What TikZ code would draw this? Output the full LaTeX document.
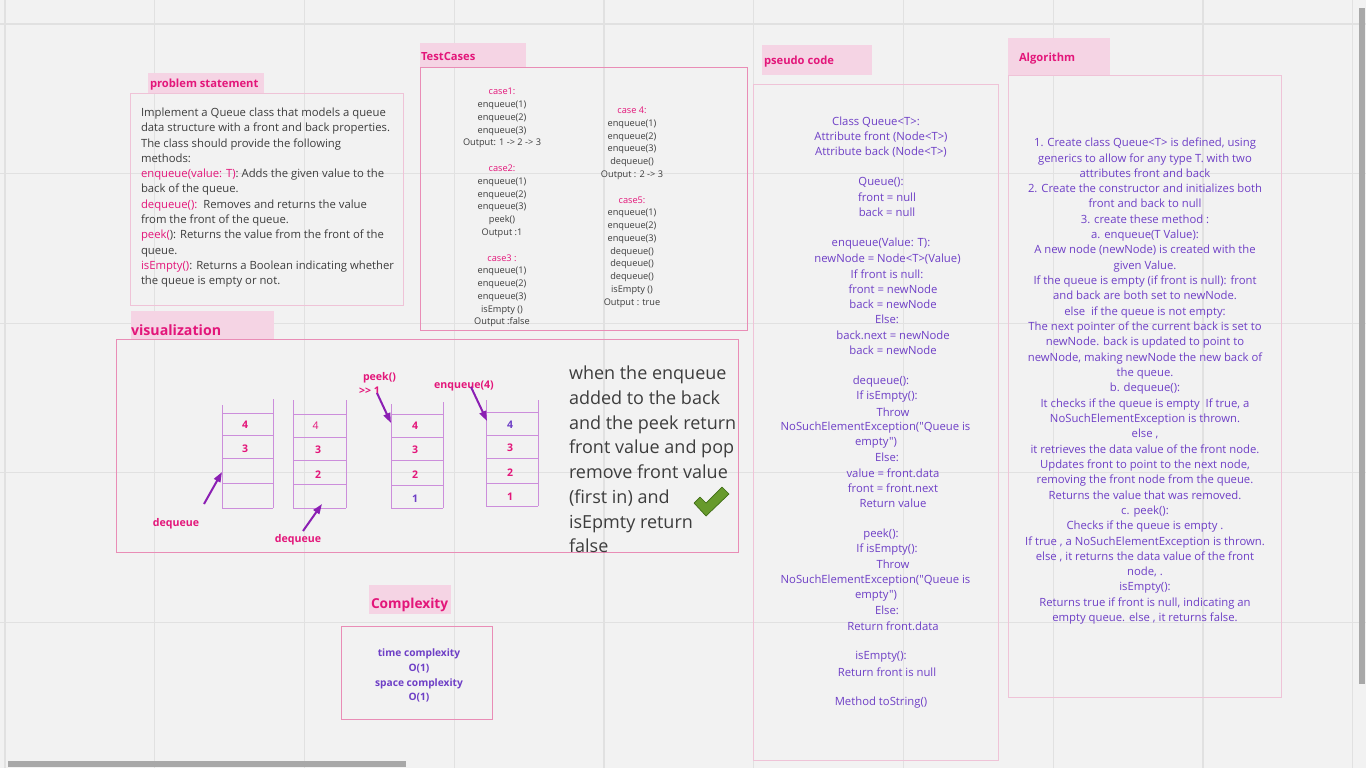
\documentclass[tikz,border=0pt]{standalone}
\usepackage{fontspec}
\setmainfont{Open Sans}[Ligatures=TeXOff]
\usetikzlibrary{arrows.meta}
\definecolor{bg}{HTML}{F2F2F2}
\definecolor{gridc}{HTML}{E1E1E1}
\definecolor{hdr}{HTML}{F5D4E4}
\definecolor{pinkt}{HTML}{E3167A}
\definecolor{boxl}{HTML}{EFC3D7}
\definecolor{boxs}{HTML}{E98DB6}
\definecolor{purp}{HTML}{6E3FC6}
\definecolor{grayt}{HTML}{3D3D3D}
\definecolor{stackc}{HTML}{CC8EDB}
\definecolor{arrc}{HTML}{8B1FB3}
\definecolor{scrollc}{HTML}{A8A8A8}
\definecolor{chkfill}{HTML}{679A2C}
\definecolor{chkdraw}{HTML}{3F6C16}
\newcommand{\dq}{\char34 }
\begin{document}
\begin{tikzpicture}[x=1pt,y=-1pt,
  lbl/.style={inner sep=0pt,outer sep=0pt,yshift=-1.7pt},
  hdrbox/.style={fill=hdr,draw=none,inner sep=0pt,anchor=north west},
  hdrtxt/.style={lbl,text=pinkt,anchor=west,font={\fontsize{11.2}{13}\selectfont\bfseries}},
  lbox/.style={draw=boxl,line width=0.9pt,inner sep=0pt,anchor=north west},
  sbox/.style={draw=boxs,line width=1.1pt,inner sep=0pt,anchor=north west},
  stk/.style={draw=stackc,line width=0.8pt},
  num/.style={lbl,text=pinkt,font={\fontsize{10.5}{12}\selectfont\bfseries}},
  vlab/.style={lbl,text=pinkt,font={\fontsize{10.6}{12}\selectfont\bfseries}},
  varrow/.style={draw=arrc,line width=2pt,-{Triangle[length=10pt,width=7pt]}},
  pcode/.style={lbl,text=purp,font={\fontsize{11.3}{15.25}\selectfont}},
  tcase/.style={lbl,text=grayt,align=center,font={\fontsize{9.2}{12.78}\selectfont}}]
\useasboundingbox (0,0) rectangle (1366,768);
\fill[bg] (0,0) rectangle (1366,768);
% grid
\foreach \k in {0,...,9} {\draw[gridc,line width=1.2pt] ({5+149.75*\k},0) -- ({5+149.75*\k},768);}
\foreach \k in {0,...,4} {\draw[gridc,line width=1.2pt] (0,{24+149.6*\k}) -- (1366,{24+149.6*\k});}
% scrollbars
\fill[scrollc] (8,761) rectangle (406,767);
\fill[scrollc] (1359,8) rectangle (1365,684);

% ---------- problem statement
\node[hdrbox,minimum width=116pt,minimum height=20pt] (pshdr) at (148,73) {};
\node[hdrtxt] (pstitle) at (150,83) {problem statement};
\node[lbox,minimum width=273pt,minimum height=212pt] (psbox) at (130,93) {};
\node[lbl,text=grayt,align=left,anchor=west,font={\fontsize{11.3}{15.3}\selectfont}] (pstext) at (141,196)
{Implement a Queue class that models a queue\\
data structure with a front and back properties.\\
The class should provide the following\\
methods:\\
\textcolor{pinkt}{enqueue(value: T)}: Adds the given value to the\\
back of the queue.\\
\textcolor{pinkt}{dequeue():}\ \ Removes and returns the value\\
from the front of the queue.\\
\textcolor{pinkt}{peek(}): Returns the value from the front of the\\
queue.\\
\textcolor{pinkt}{isEmpty()}: Returns a Boolean indicating whether\\
the queue is empty or not.};

% ---------- test cases
\node[hdrbox,minimum width=106pt,minimum height=24pt] (tchdr) at (420,43) {};
\node[hdrtxt] (tctitle) at (421,55) {TestCases};
\node[sbox,minimum width=327pt,minimum height=263pt] (tcbox) at (420,67) {};
\node[tcase] (tc1) at (502,206)
{\textcolor{pinkt}{case1:}\\ enqueue(1)\\ enqueue(2)\\ enqueue(3)\\ Output: 1 -> 2 -> 3\\ \\
\textcolor{pinkt}{case2:}\\ enqueue(1)\\ enqueue(2)\\ enqueue(3)\\ peek()\\ Output :1\\ \\
\textcolor{pinkt}{case3 :}\\ enqueue(1)\\ enqueue(2)\\ enqueue(3)\\ isEmpty ()\\ Output :false};
\node[tcase] (tc2) at (632,205.5)
{\textcolor{pinkt}{case 4:}\\ enqueue(1)\\ enqueue(2)\\ enqueue(3)\\ dequeue()\\ Output : 2 -> 3\\ \\
\textcolor{pinkt}{case5:}\\ enqueue(1)\\ enqueue(2)\\ enqueue(3)\\ dequeue()\\ dequeue()\\ dequeue()\\ isEmpty ()\\ Output : true};

% ---------- pseudo code
\node[hdrbox,minimum width=110pt,minimum height=30pt] (pchdr) at (762,45) {};
\node[hdrtxt] (pctitle) at (764,60) {pseudo code};
\node[lbox,minimum width=245pt,minimum height=676pt] (pcbox) at (753,84) {};
\foreach \x/\y/\t in {876/120/{Class Queue<T>:},881/135/{Attribute front (Node<T>)},881/150/{Attribute back (Node<T>)},
  881/181/{Queue():},887/196/{front = null},887/211/{back = null},
  881/242/{enqueue(Value: T):},887.5/257/{newNode = Node<T>(Value)},887/273/{If front is null:},893/288/{front = newNode},893/303/{back = newNode},887/318/{Else:},893/334/{back.next = newNode},893/349/{back = newNode},
  881/380/{dequeue():},887/395/{If isEmpty():},893/411/{Throw},875.5/426/{NoSuchElementException(\dq Queue is},876/441/{empty\dq)},887/456/{Else:},893/472/{value = front.data},893/487/{front = front.next},893/502/{Return value},
  881/533/{peek():},887/548/{If isEmpty():},893/563/{Throw},875.5/579/{NoSuchElementException(\dq Queue is},876/594/{empty\dq)},887/609/{Else:},893/625/{Return front.data},
  881/655/{isEmpty():},887/671/{Return front is null},881/701/{Method toString()}}
  {\node[pcode] (pc\y) at (\x,\y) {\t};}

% ---------- algorithm
\node[hdrbox,minimum width=102pt,minimum height=37pt] (alhdr) at (1008,38) {};
\node[hdrtxt] (altitle) at (1019,57) {Algorithm};
\node[lbox,minimum width=273pt,minimum height=622pt] (albox) at (1008,75) {};
\node[lbl,text=purp,align=center,font={\fontsize{11.3}{15.32}\selectfont}] (altext) at (1145,379.5)
{1. Create class Queue<T> is defined, using\\
generics to allow for any type T. with two\\
attributes front and back\\
2. Create the constructor and initializes both\\
front and back to null\\
3. create these method :\\
a. enqueue(T Value):\\
A new node (newNode) is created with the\\
given Value.\\
If the queue is empty (if front is null): front\\
and back are both set to newNode.\\
else\ \ if the queue is not empty:\\
The next pointer of the current back is set to\\
newNode. back is updated to point to\\
newNode, making newNode the new back of\\
the queue.\\
b. dequeue():\\
It checks if the queue is empty\ \ If true, a\\
NoSuchElementException is thrown.\\
else ,\\
it retrieves the data value of the front node.\\
Updates front to point to the next node,\\
removing the front node from the queue.\\
Returns the value that was removed.\\
c. peek():\\
Checks if the queue is empty .\\
If true , a NoSuchElementException is thrown.\\
else , it returns the data value of the front\\
node, .\\
isEmpty():\\
Returns true if front is null, indicating an\\
empty queue. else , it returns false.};

% ---------- visualization
\node[hdrbox,minimum width=143pt,minimum height=28pt] (vihdr) at (131,311) {};
\node[hdrtxt,font={\fontsize{14.2}{16}\selectfont\bfseries}] (vititle) at (131,328.5) {visualization};
\node[sbox,minimum width=622pt,minimum height=213pt] (vibox) at (116,339) {};
% stack 1
\draw[stk] (222,405) -- (222,509);
\draw[stk] (273,399) -- (273,508);
\foreach \h in {413,435,458,483,508} {\draw[stk] (222,\h) -- (273,\h);}
\node[num] (s1n4) at (245,423) {4};
\node[num] (s1n3) at (245,447) {3};
% stack 2
\draw[stk] (293,400) -- (293,509);
\draw[stk] (346,400) -- (346,508);
\foreach \h in {414,437,460,484,508} {\draw[stk] (293,\h) -- (346,\h);}
\node[num,font={\fontsize{10.5}{12}\selectfont}] (s2n4) at (315.5,424) {4};
\node[num] (s2n3) at (318,448) {3};
\node[num] (s2n2) at (318,473) {2};
% stack 3
\draw[stk] (391,404) -- (391,508);
\draw[stk] (443,402) -- (443,508);
\foreach \h in {414,437,460,485,508} {\draw[stk] (391,\h) -- (443,\h);}
\node[num] (s3n4) at (415,424) {4};
\node[num] (s3n3) at (415,448) {3};
\node[num] (s3n2) at (415,473) {2};
\node[num,text=purp] (s3n1) at (415,497) {1};
% stack 4
\draw[stk] (486,400) -- (486,506);
\draw[stk] (538,400) -- (538,506);
\foreach \h in {412,435,458,483,506} {\draw[stk] (486,\h) -- (538,\h);}
\node[num,text=purp] (s4n4) at (510,423) {4};
\node[num] (s4n3) at (510,446) {3};
\node[num] (s4n2) at (510,471) {2};
\node[num] (s4n1) at (510,495) {1};
% labels and arrows
\node[vlab] (dq1) at (176,522) {dequeue};
\node[vlab] (dq2) at (298,538) {dequeue};
\node[vlab,anchor=west] (pk1) at (363,376) {peek()};
\node[vlab,anchor=west] (pk2) at (359,389) {>> 1};
\node[vlab] (enq) at (464,384) {enqueue(4)};
\coordinate (a1t) at (204,504); \coordinate (a1h) at (222,472);
\coordinate (a2t) at (303,531); \coordinate (a2h) at (322,504);
\coordinate (a3t) at (377,393); \coordinate (a3h) at (391,423);
\coordinate (a4t) at (471,387); \coordinate (a4h) at (487,421);
\draw[varrow] (a1t) -- (a1h);
\draw[varrow] (a2t) -- (a2h);
\draw[varrow] (a3t) -- (a3h);
\draw[varrow] (a4t) -- (a4h);
\node[lbl,text=grayt,align=left,anchor=west,yshift=1.7pt,font={\fontsize{18}{24.7}\selectfont}] (vitext) at (569,459.5)
{when the enqueue\\ added to the back\\ and the peek return\\ front value and pop\\ remove front value\\ (first in) and\\ isEpmty return\\ false};
% check mark
\filldraw[fill=chkfill,draw=chkdraw,line width=0.7pt,line join=round]
  (694,503) -- (700,497) -- (706,503) -- (722,487) -- (729,494) -- (706,516) -- cycle;

% ---------- complexity
\node[hdrbox,minimum width=82pt,minimum height=29pt] (cxhdr) at (369,585) {};
\node[hdrtxt,font={\fontsize{13.7}{15}\selectfont\bfseries}] (cxtitle) at (371,603) {Complexity};
\node[sbox,minimum width=151pt,minimum height=93pt] (cxbox) at (341,626) {};
\node[lbl,text=purp,align=center,font={\fontsize{10.2}{14.7}\selectfont\bfseries}] (cxtext) at (419,674)
{time complexity\\ O(1)\\ space complexity\\ O(1)};
\end{tikzpicture}
\end{document}
